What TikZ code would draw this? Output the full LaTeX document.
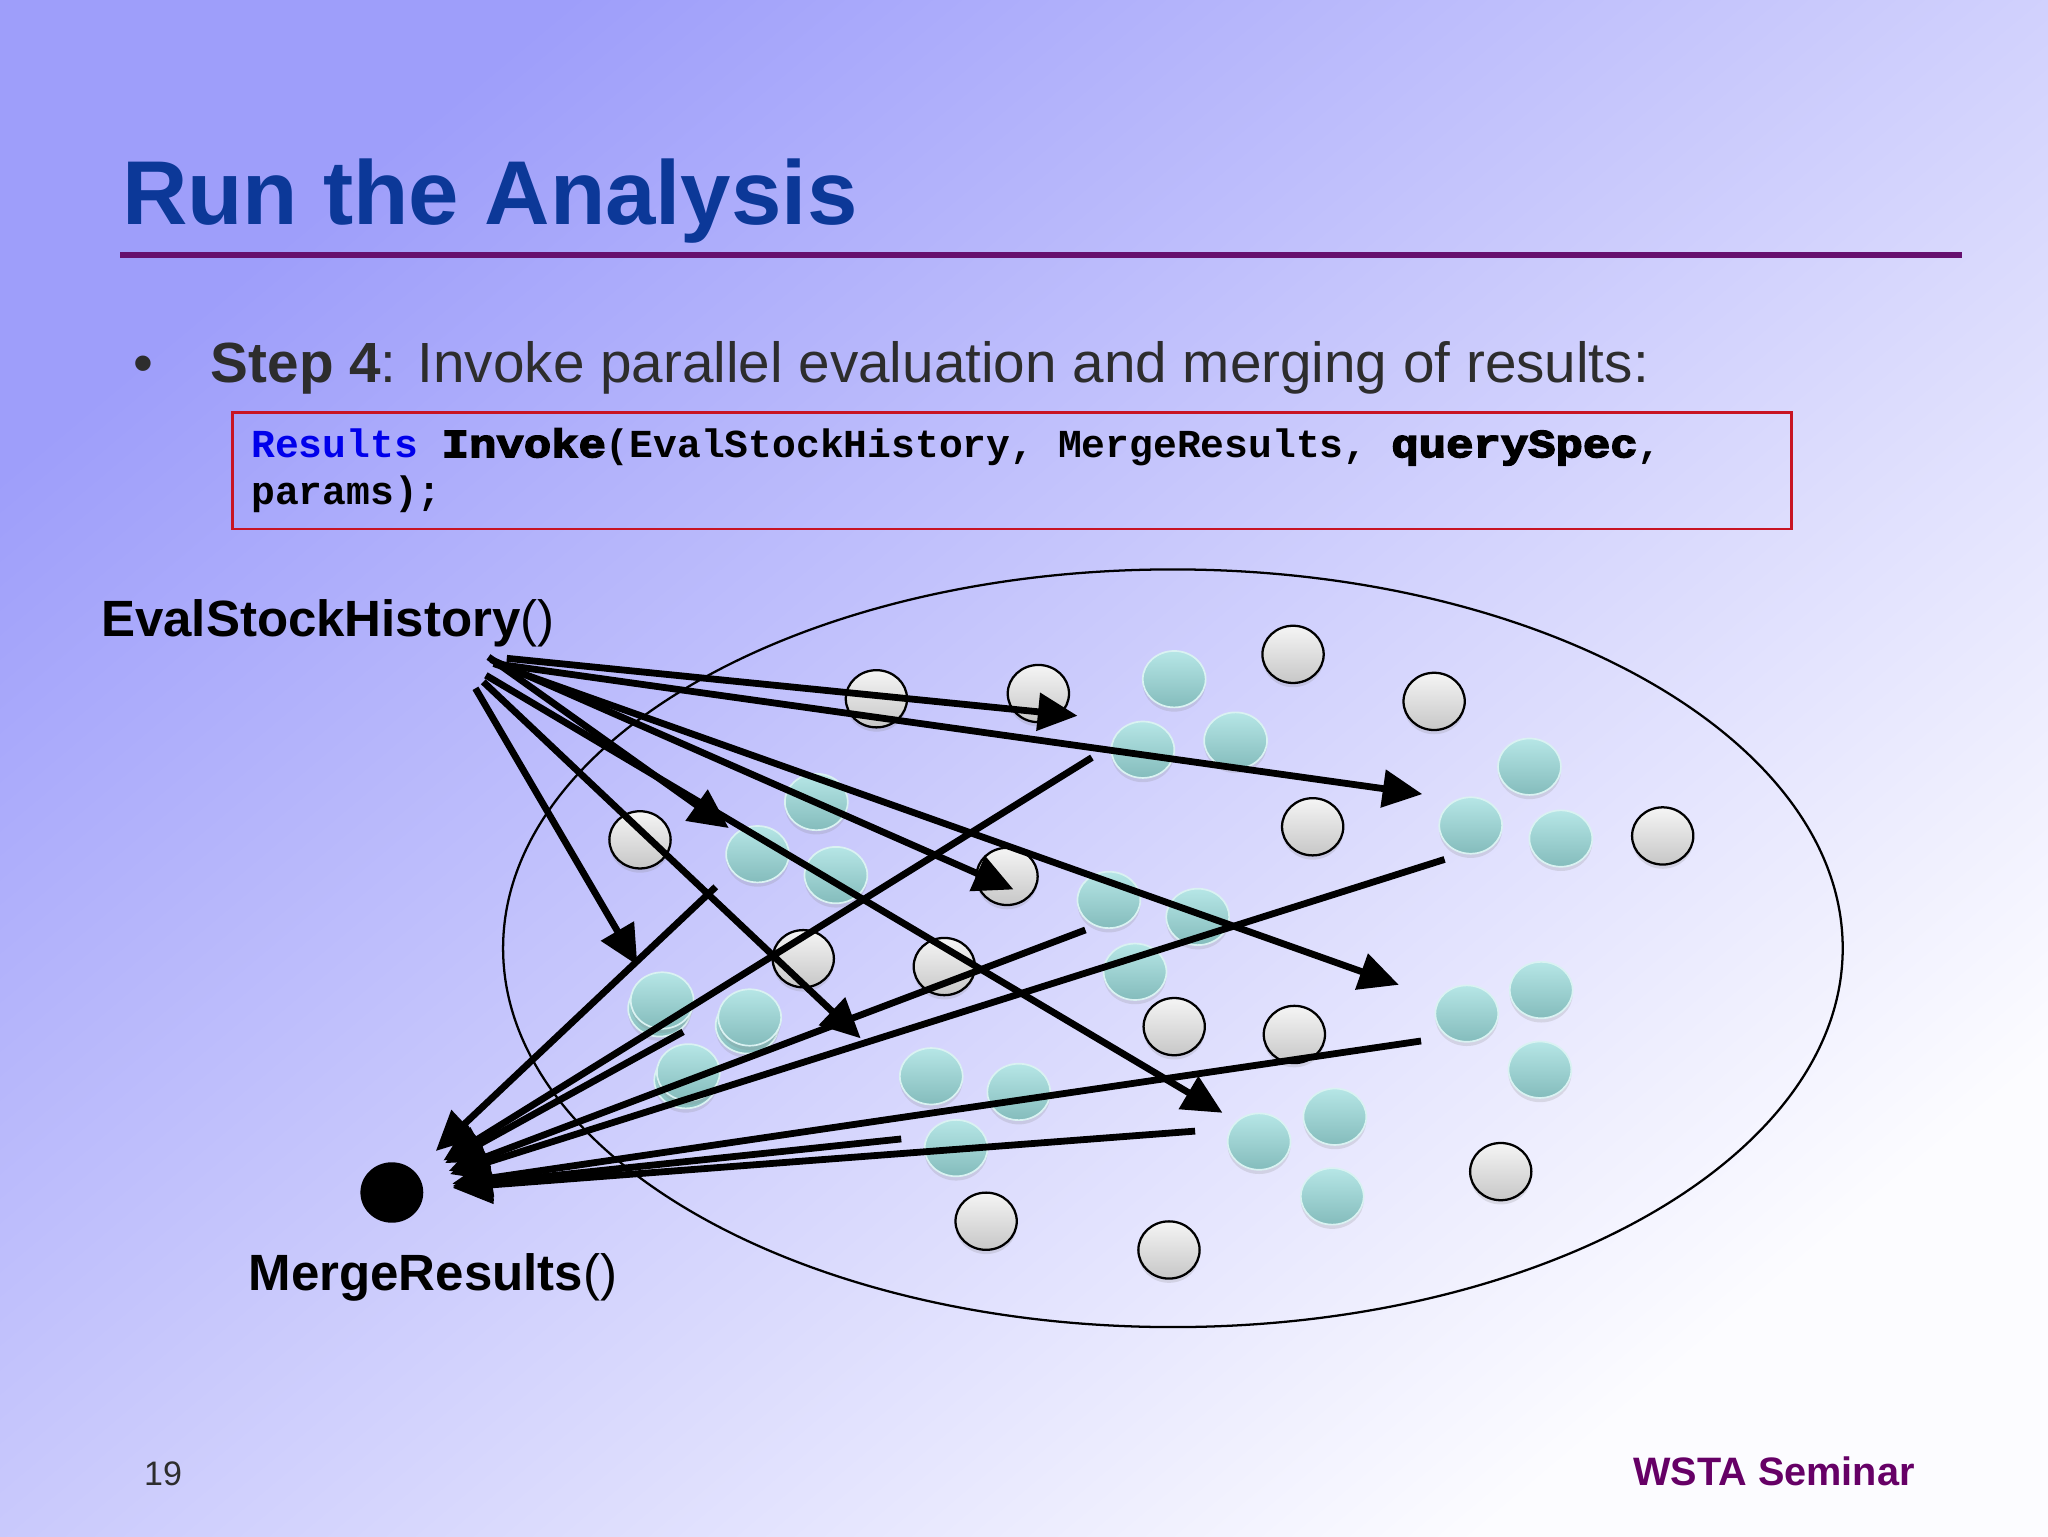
\documentclass[tikz,border=0pt]{standalone}
\usepackage{fontspec}
\setmainfont{Liberation Sans}
\setmonofont{Liberation Mono}
\newfontfamily\heavyfont[BoldFeatures={FakeBold=4,FakeStretch=1.15}]{Liberation Mono}
\usepackage{tikz}
\usetikzlibrary{positioning}
\usetikzlibrary{shapes.geometric, arrows.meta, shadows}

\definecolor{bgtop}{RGB}{158,158,250}
\definecolor{bgbot}{RGB}{252,252,255}
\definecolor{titleblue}{RGB}{12,56,152}
\definecolor{rulepurple}{RGB}{102,16,110}
\definecolor{boxred}{RGB}{200,20,35}
\definecolor{codeblue}{RGB}{0,0,235}
\definecolor{textgray}{RGB}{45,45,45}
\definecolor{footpurple}{RGB}{102,0,102}
\definecolor{tealtop}{RGB}{182,230,230}
\definecolor{tealbot}{RGB}{132,188,188}

\tikzstyle{flow} = [draw, line width=2.4pt, -{Triangle[length=14pt,width=13pt]}]
\tikzstyle{idle} = [ellipse, draw=black, line width=0.8pt, inner sep=0pt, minimum width=0.76cm, minimum height=0.71cm, top color=white!96!black, bottom color=black!22, drop shadow={shadow xshift=0pt, shadow yshift=-1.5pt, opacity=0.2}]
\tikzstyle{busy} = [ellipse, draw=tealtop!50!white, line width=0.6pt, inner sep=0pt, minimum width=0.78cm, minimum height=0.70cm, top color=tealtop, bottom color=tealbot, drop shadow={shadow xshift=0pt, shadow yshift=-1.5pt, opacity=0.2}]

\begin{document}
\begin{tikzpicture}[x=0.0162cm, y=-0.0162cm]
			\shade[top color=bgtop, bottom color=bgbot, shading angle=40] (0,0) rectangle (1568,1176);
			\useasboundingbox (0,0) rectangle (1568,1176);

			\node[anchor=base west, inner sep=0pt, text=titleblue, font=\fontsize{32}{38}\selectfont\bfseries] (title) at (93,172) {Run the Analysis};
			\draw[rulepurple, line width=2pt] (92,195) -- (1502,195);

			\node[anchor=base west, inner sep=0pt, text=textgray, font=\fontsize{20}{24}\selectfont] (bullet) at (102,293) {•};
			\node[anchor=base west, inner sep=0pt, text=textgray, font=\fontsize{20}{24}\selectfont] (step) at (161,293) {\textbf{Step 4}: Invoke parallel evaluation and merging of results:};

			\node[draw=boxred, line width=0.9pt, anchor=north west, inner sep=0pt, minimum width=19.34cm, minimum height=1.44cm] (codebox) at (177,315) {};
			\node[anchor=base west, inner sep=0pt, font=\fontsize{14}{16}\selectfont\ttfamily\bfseries] (call1) at (192,350) {{\color{codeblue}Results} {\heavyfont\bfseries Invoke}(EvalStockHistory, MergeResults, {\heavyfont\bfseries querySpec},};
			\node[anchor=base west, inner sep=0pt, font=\fontsize{14}{16}\selectfont\ttfamily\bfseries] (call2) at (192,386) {params);};

			% the pool of machines
			\draw[line width=0.8pt] (898,726) ellipse [x radius=8.31cm, y radius=4.70cm];

			\node[idle] (idle1) at (671,535) {};
			\node[idle] (idle2) at (795,531) {};
			\node[idle] (idle3) at (990,501) {};
			\node[idle] (idle4) at (1098,537) {};
			\node[idle] (idle5) at (1005,633) {};
			\node[idle] (idle6) at (1273,640) {};
			\node[idle] (idle7) at (490,643) {};
			\node[idle] (idle8) at (771,671) {};
			\node[idle] (idle9) at (615,734) {};
			\node[idle] (idle10) at (723,740) {};
			\node[idle] (idle11) at (899,786) {};
			\node[idle] (idle12) at (991,792) {};
			\node[idle] (idle13) at (1149,897) {};
			\node[idle] (idle14) at (755,935) {};
			\node[idle] (idle15) at (895,957) {};

			\node[busy] (busy1) at (899,520) {};
			\node[busy] (busy2) at (875,574) {};
			\node[busy] (busy3) at (946,567) {};
			\node[busy] (busy4) at (1171,587) {};
			\node[busy] (busy5) at (1126,632) {};
			\node[busy] (busy6) at (1195,642) {};
			\node[busy] (busy7) at (625,614) {};
			\node[busy] (busy8) at (580,654) {};
			\node[busy] (busy9) at (640,670) {};
			\node[busy] (busy10) at (849,689) {};
			\node[busy] (busy11) at (917,702) {};
			\node[busy] (busy12) at (869,744) {};
			\node[busy] (busy13b) at (505,772) {};
			\node[busy] (busy13) at (507,766) {};
			\node[busy] (busy14b) at (572,785) {};
			\node[busy] (busy14) at (574,779) {};
			\node[busy] (busy15b) at (525,827) {};
			\node[busy] (busy15) at (527,821) {};
			\node[busy] (busy16) at (713,824) {};
			\node[busy] (busy17) at (780,836) {};
			\node[busy] (busy18) at (732,879) {};
			\node[busy] (busy19) at (1180,758) {};
			\node[busy] (busy20) at (1123,776) {};
			\node[busy] (busy21) at (1179,819) {};
			\node[busy] (busy22) at (1022,855) {};
			\node[busy] (busy23) at (964,874) {};
			\node[busy] (busy24) at (1020,916) {};

			\node[anchor=base west, inner sep=0pt, font=\fontsize{18}{22}\selectfont] (eval) at (77,487) {\textbf{EvalStockHistory}()};
			\node[ellipse, fill=black, inner sep=0pt, minimum width=0.78cm, minimum height=0.75cm] (merge) at (300,913) {};
			\node[anchor=base west, inner sep=0pt, font=\fontsize{18}{22}\selectfont] (mergelabel) at (190,988) {\textbf{MergeResults}()};

			% fan out
			\coordinate (s1) at (388,504);
			\coordinate (s2) at (378,508);
			\coordinate (s3) at (376,505);
			\coordinate (s4) at (378,508);
			\coordinate (s5) at (374,503);
			\coordinate (s6) at (372,517);
			\coordinate (s7) at (370,522);
			\coordinate (s8) at (364,527);
			\coordinate (h1) at (825,548);
			\coordinate (h2) at (1089,608);
			\coordinate (h3) at (776,681);
			\coordinate (h4) at (1071,754);
			\coordinate (h5) at (558,634);
			\coordinate (h6) at (936,852);
			\coordinate (h7) at (659,795);
			\coordinate (h8) at (488,739);
			\draw[flow] (s1) -- (h1);
			\draw[flow] (s2) -- (h2);
			\draw[flow] (s3) -- (h3);
			\draw[flow] (s4) -- (h4);
			\draw[flow] (s5) -- (h5);
			\draw[flow] (s6) -- (h6);
			\draw[flow] (s7) -- (h7);
			\draw[flow] (s8) -- (h8);

			% merge back
			\coordinate (r0) at (523,790);
			\coordinate (r1) at (548,679);
			\coordinate (r2) at (836,580);
			\coordinate (r3) at (831,712);
			\coordinate (r4) at (1106,658);
			\coordinate (r5) at (1088,797);
			\coordinate (r6) at (690,872);
			\coordinate (r7) at (915,866);
			\draw[flow, shorten >=0.36cm] (r0) -- (merge);
			\draw[flow, shorten >=0.36cm] (r1) -- (merge);
			\draw[flow, shorten >=0.36cm] (r2) -- (merge);
			\draw[flow, shorten >=0.36cm] (r3) -- (merge);
			\draw[flow, shorten >=0.36cm] (r4) -- (merge);
			\draw[flow, shorten >=0.36cm] (r5) -- (merge);
			\draw[flow, shorten >=0.36cm] (r6) -- (merge);
			\draw[flow, shorten >=0.36cm] (r7) -- (merge);

			\node[anchor=base west, inner sep=0pt, text=textgray, font=\fontsize{12}{14}\selectfont] (page) at (110,1137) {19};
			\node[anchor=base west, inner sep=0pt, text=footpurple, font=\fontsize{14}{17}\selectfont\bfseries] (seminar) at (1250,1137) {WSTA Seminar};
		\end{tikzpicture}
\end{document}
